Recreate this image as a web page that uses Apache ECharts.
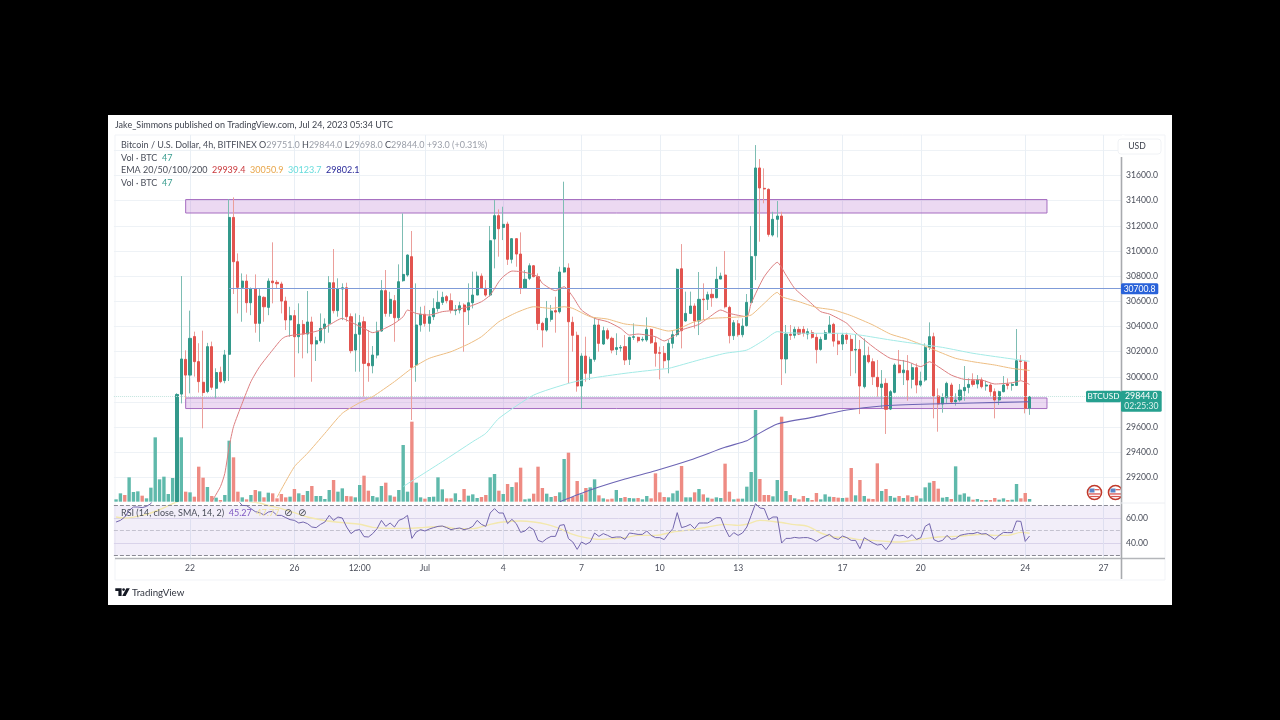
<!DOCTYPE html>
<html><head><meta charset="utf-8">
<style>html,body{margin:0;padding:0;background:#000;width:1280px;height:720px;overflow:hidden}
#frame{position:absolute;left:108px;top:115px;width:1064px;height:490px;background:#fff}
#c{position:absolute;left:0;top:0;width:1280px;height:720px}</style>
<script src="https://cdn.jsdelivr.net/npm/echarts@6/dist/echarts.min.js"></script>
</head><body><div id="frame"></div><div id="c"></div>
<script>
const firstBar=-17; // bar numbers count from 22 Jun 00:00
const opens=[26760,26800,26870,26830,27050,27100,27160,27110,27150,27400,
28150,28300,28400,28450,29010,29863,30139,30014,30320,30121,
29957,29883,30240,29909,30036,29970,30179,31267,30915,30711,
30761,30589,30698,30425,30632,30552,30761,30751,30738,30602,
30452,30486,30319,30417,30340,30436,30261,30287,30385,30425,
30748,30526,30698,30708,30478,30213,30338,30438,30107,30088,
30173,30364,30685,30504,30605,30470,30764,30809,30955,30094,
30412,30497,30425,30478,30544,30592,30637,30605,30526,30531,
30571,30531,30589,30650,30801,30703,30650,31095,31281,31188,
31214,30934,31098,30976,30703,30783,30883,30796,30425,30372,
30457,30526,30518,30833,30865,30433,30330,29927,30165,30028,
30139,30412,30261,30367,30306,30218,30229,30240,30139,30314,
30314,30293,30293,30377,30271,30192,30187,30134,30266,30335,
30859,30444,30504,30563,30444,30618,30616,30656,30629,30777,
30809,30552,30327,30422,30335,30407,30592,30963,31660,31498,
31490,31127,31252,31278,30142,30338,30330,30377,30377,30340,
30351,30314,30218,30298,30351,30417,30284,30261,30332,30298,
30213,30218,29922,30171,30120,29996,29916,29948,29744,29877,
30094,30033,30049,29980,30073,29935,29975,30234,30319,29848,
29784,29837,29935,29802,29816,29890,29916,29969,29943,29975,
29927,29935,29882,29816,29882,29943,29932,29932,30128,30118,
29751];
const closes=[26800,26870,26830,27050,27100,27160,27110,27150,27400,28150,
28300,28400,28450,28720,29860,30142,30014,30306,30121,29962,
29875,30240,29917,30034,29962,30174,31267,30915,30711,30761,
30589,30698,30425,30642,30557,30761,30748,30740,30602,30452,
30486,30319,30417,30340,30436,30261,30287,30385,30420,30748,
30526,30698,30708,30478,30208,30338,30430,30107,30088,30173,
30364,30685,30504,30616,30470,30756,30814,30968,30075,30412,
30497,30425,30478,30544,30592,30632,30605,30531,30531,30565,
30518,30589,30650,30801,30703,30650,31082,31281,31177,31212,
30934,31098,30976,30703,30775,30883,30796,30425,30372,30465,
30523,30515,30833,30867,30438,30330,29927,30165,30028,30139,
30412,30266,30367,30306,30213,30232,30234,30134,30314,30319,
30287,30298,30377,30271,30187,30187,30128,30266,30335,30854,
30367,30504,30563,30444,30616,30613,30653,30629,30775,30801,
30557,30327,30430,30335,30404,30592,30955,31660,31501,31493,
31132,31252,31278,30142,30340,30330,30377,30340,30345,30359,
30314,30216,30298,30351,30412,30284,30261,30332,30298,30208,
30218,29927,30168,30120,30001,29922,29943,29742,29882,30094,
30033,30054,29975,30073,29935,29967,30232,30319,29848,29784,
29837,29948,29800,29816,29895,29916,29940,29940,29975,29922,
29935,29882,29816,29882,29935,29932,29940,30128,30123,29750,
29844];
const lows=[26740,26780,26810,26810,27020,27080,27090,27090,27130,27380,
28120,28280,28370,28420,29005,29789,29824,29869,30002,29875,
29591,29870,29896,29830,29949,29949,29967,30658,30504,30438,
30510,30490,30351,30279,30438,30490,30584,30703,30504,30372,
30319,29996,30187,30147,30187,29961,30126,30271,30266,30351,
30504,30478,30451,30438,30187,30041,30041,29842,29961,30028,
30147,30359,30478,30478,30279,30451,30756,30795,29657,29961,
30359,30399,30359,30451,30518,30571,30584,30504,30490,30504,
30200,30412,30544,30650,30698,30637,30637,30862,30955,31087,
30889,30902,30875,30658,30698,30769,30791,30372,30234,30359,
30438,30351,30504,30828,29948,30200,29882,29750,29961,29975,
30120,30200,30253,30293,30187,30173,30200,30094,30094,30293,
30271,30279,30279,30261,30081,29980,30067,30028,30226,30319,
30226,30438,30499,30385,30332,30451,30531,30557,30624,30777,
30544,30266,30293,30319,30314,30399,30584,30769,31074,31379,
31114,31114,31108,29935,30028,30293,30306,30332,30319,30298,
30303,30107,30208,30293,30346,30240,30173,30213,30261,30006,
30028,29704,29908,30107,29935,29842,29750,29546,29736,29869,
30028,29935,29810,29908,29869,29922,29961,30213,29670,29564,
29715,29789,29789,29771,29802,29810,29869,29922,29908,29908,
29890,29842,29670,29776,29877,29900,29890,29927,29975,29710,
29698];
const highs=[26830,26890,26890,27070,27120,27180,27180,27170,27420,28170,
28320,28420,28470,28740,29870,30801,30211,30526,30359,30267,
30367,30270,30280,30068,30081,30214,31413,31426,30981,30822,
30814,30710,30814,30703,30640,30783,31069,30769,30756,30637,
30557,30531,30584,30451,30682,30478,30319,30504,30465,30801,
31016,30783,30743,30748,30504,30504,30491,30478,30372,30245,
30438,30769,30849,30676,30650,30894,31299,30973,31159,30743,
30557,30565,30531,30624,30685,30676,30650,30663,30571,30597,
30584,30743,30836,30836,30822,30769,31199,31405,31331,31352,
31233,31101,31101,31148,30849,30902,30889,30822,30438,30603,
30571,30637,30875,31551,30902,30478,30359,30187,30319,30160,
30470,30451,30399,30385,30319,30346,30253,30332,30319,30425,
30319,30319,30473,30385,30319,30240,30245,30293,30372,30862,
31055,30677,30677,30584,30833,30743,30677,30703,30875,30828,
31000,30565,30451,30451,30465,30658,31199,31842,31731,31657,
31498,31312,31397,31312,30412,30412,30399,30399,30404,30385,
30372,30346,30319,30372,30483,30430,30346,30346,30351,30332,
30338,30293,30306,30240,30147,30134,30054,29988,29895,30107,
30213,30134,30173,30107,30107,30041,30266,30433,30351,29908,
29869,29961,29953,29869,29943,30086,29988,30028,30014,29996,
29969,29948,29908,29890,30006,29988,29953,30380,30173,30134,
29844];
const volumes=[7,25,20,73,29,31,18,10,42,193,
67,75,23,71,165,193,30,28,15,105,
72,44,17,12,5,20,183,133,30,13,
7,20,35,31,13,27,25,10,23,13,
15,38,25,20,32,47,17,17,8,35,
65,30,40,17,16,13,50,78,33,17,
13,47,57,19,15,35,170,30,240,57,
13,9,14,15,73,37,10,10,25,5,
38,18,22,11,14,20,73,83,33,23,
53,44,58,102,7,9,24,105,41,24,
14,17,28,128,147,14,62,22,41,43,
67,19,10,7,9,35,11,14,11,10,
11,7,17,10,85,28,14,13,25,33,
107,13,13,28,38,22,12,9,13,11,
114,30,7,9,9,45,89,275,68,20,
20,16,65,255,32,20,10,7,17,11,
5,26,7,22,15,14,12,11,12,101,
19,65,17,9,8,115,32,38,17,12,
17,11,19,14,18,10,43,57,62,39,
12,14,8,106,21,25,15,6,8,5,
5,5,11,6,10,5,6,53,10,26,
8];
const rsi=[56.8,58.1,60.8,66.1,68.8,68.8,68.3,69.3,71.5,80,
78,77,82,86,88,88,84,85,80,76,
74,78,74,74,72.8,76,88,82,74,70.1,
69.9,67.5,65.1,64.3,62.4,64.8,65.3,62.1,62.1,60.3,
58.7,58.1,56,56.8,55.5,52.8,52.3,54.9,56.8,62.1,
58.1,60.8,60,52.8,47.5,50.1,50.7,45.1,44.8,47.5,
51.5,58.1,53.3,56,52.8,58.1,59.5,62.1,43.7,48.8,
50.7,49.6,51.2,52.3,53.3,53.6,52.3,50.7,51.5,52,
50.7,51.5,53.3,58.1,54.9,53.3,64,67.5,64,64,
55.5,58.9,55.5,48.5,49.6,52.8,50.7,42.1,40.8,43.5,
45.3,45.3,54.1,54.7,43.5,40.8,34.9,40.8,38.9,40.8,
48,45.3,47.5,46.1,44.3,44.8,44.8,42.9,48,47.5,
46.9,46.9,49.6,46.1,44.3,44.3,42.7,47.5,51.5,64.3,
52.3,53.3,54.9,51.5,56,56,56,58.1,60.3,60.3,
51.5,44.8,48.3,46.1,48,52.8,62.1,71.5,68,67.5,
58.7,60.8,60.8,40,43.7,43.7,44.5,44,44.3,44.3,
43.2,41.3,43.5,45.3,46.9,44,42.9,45.6,44.3,42.1,
42.1,35.5,44.3,42.1,40,38.4,38.9,34.7,39.5,46.7,
45.6,46.1,44,46.7,42.9,44.3,53.3,55.5,42.7,41.1,
42.1,46.1,42.9,43.5,46.1,46.9,47.5,47.5,48.5,47.2,
47.5,45.3,42.9,46.1,48.5,48.3,48.3,57.6,57.3,41.3,
45.6];
// moving averages read at selected bars: [bar number, value]
const ema20=[[5,29008],[7,29128],[8,29233],[9,29445],[10,29604],[12,29790],[14,29962],[16,30081],[19,30214],[21,30298],[22,30320],[24,30333],[27,30346],[30,30372],[32,30412],[35,30465],[36,30451],[40,30385],[42,30351],[44,30372],[47,30425],[49,30478],[50,30531],[52,30504],[55,30491],[58,30518],[60,30526],[64,30557],[67,30597],[69,30650],[71,30756],[72,30796],[74,30841],[76,30836],[78,30822],[80,30796],[81,30743],[84,30685],[86,30716],[88,30637],[90,30531],[93,30465],[96,30438],[99,30385],[101,30332],[103,30340],[107,30319],[109,30285],[111,30319],[113,30372],[117,30417],[119,30465],[122,30531],[124,30504],[128,30478],[129,30584],[132,30796],[135,30910],[137,30809],[139,30703],[142,30610],[145,30518],[147,30499],[151,30425],[153,30351],[156,30266],[158,30213],[161,30147],[165,30120],[168,30081],[170,30120],[172,30081],[175,30014],[178,29980],[182,29975],[185,29943],[189,29953],[191,29969],[193,29939.4]];
const ema50=[[20,29043],[24,29286],[27,29392],[31,29551],[35,29710],[39,29795],[42,29843],[47,29962],[51,30068],[55,30147],[60,30200],[64,30261],[67,30319],[71,30438],[75,30510],[79,30557],[83,30544],[86,30557],[88,30544],[92,30478],[96,30459],[100,30420],[106,30399],[110,30364],[112,30377],[116,30438],[120,30465],[123,30470],[127,30478],[129,30491],[132,30584],[135,30671],[136,30637],[140,30597],[144,30552],[148,30531],[152,30486],[157,30412],[161,30340],[165,30298],[169,30245],[173,30187],[176,30147],[180,30120],[185,30094],[189,30067],[193,30050.9]];
const ema100=[[49,29128],[58,29326],[65,29485],[68,29551],[71,29670],[79,29855],[87,29948],[92,29988],[100,30028],[108,30060],[110,30067],[117,30134],[123,30187],[128,30213],[132,30293],[135,30359],[137,30351],[142,30346],[150,30346],[154,30332],[161,30293],[169,30253],[173,30234],[180,30187],[188,30147],[193,30123.7]];
const ema200=[[85,29008],[92,29101],[100,29188],[107,29254],[115,29339],[123,29440],[128,29492],[130,29534],[135,29625],[143,29678],[151,29736],[159,29768],[170,29784],[180,29792],[193,29802.1]];
const rsiMa=[[-17,60.8],[-15,60],[-10,62.9],[-7,66.7],[-4,71.5],[-1,75],[5,78],[12,74],[16,72],[18,70],[21,67.5],[24,64.3],[27,60.8],[31,58],[35,56.3],[39,55],[42,52.5],[46,51.7],[50,51.7],[54,52.5],[58,53.3],[61,51.5],[65,51.5],[69,54.9],[72,56.8],[76,57.6],[79,56.8],[82,54.9],[85,51.5],[88,46.9],[91,44.3],[94,42.9],[97,43.5],[100,44.3],[103,46.1],[107,46.1],[111,48.8],[116,50.9],[119,52.8],[123,54.9],[126,54.1],[128,55],[131,58.1],[135,56.8],[139,54.7],[142,53.3],[145,48],[148,44.8],[151,44.3],[154,42.7],[157,42.1],[160,41.3],[163,40.8],[166,42.1],[169,43.5],[172,44.8],[176,45.3],[179,46.1],[182,46.9],[185,46.1],[188,46.1],[191,48.5],[193,47.77]];
const priceTicks=[29200,29400,29600,29800,30000,30200,30400,30600,30800,31000,31200,31400,31600];
const rsiTicks=[40,60];
const dateTicks=[[0,'22'],[24,'26'],[39,'12:00'],[54,'Jul'],[72,'4'],[90,'7'],[108,'10'],[126,'13'],[150,'17'],[168,'20'],[192,'24'],[210,'27']];
const upperBox=[31409,31302], lowerBox=[29832,29748];
const boxBars=[-1,197];
const lineLevel=30700.8, lastPrice=29844;
const slots=232;

const font='Lato,sans-serif';
const FS=9;
const AXFS=8.6;
const UP='#33998b',DOWN='#e2544f',UPW='#7dbdb3',DOWNW='#eb9e9a',VUP='#5fb9ab',VDOWN='#ee8b83',TXT='#4a4e5a';
const cats=[];for(let k=0;k<slots;k++){const d=new Date(Date.UTC(2023,5,22,(k+firstBar)*4));cats.push(d.toISOString().slice(0,16));}
const tickMap={};dateTicks.forEach(t=>tickMap[t[0]-firstBar]=t[1]);
const isTick=(i)=>tickMap[i]!==undefined;
const toK=a=>a.map(p=>[p[0]-firstBar,p[1]]);
const wicks=opens.map((o,i)=>[o,closes[i],lows[i],highs[i]]);
const bodies=opens.map((o,i)=>[o,closes[i],Math.min(o,closes[i]),Math.max(o,closes[i])]);
const volBars=volumes.map((v,i)=>({value:v,itemStyle:{color:closes[i]>=opens[i]?VUP:VDOWN}}));
const L=113.9,W=1009.2;
const rt=c=>({fontFamily:font,fontSize:FS,fontWeight:'normal',color:c});
function xA(grid,extra){return Object.assign({type:'category',gridIndex:grid,data:cats,axisLine:{show:false},axisTick:{show:false},axisLabel:{show:false},
 splitLine:{show:true,alignWithLabel:true,interval:(i)=>isTick(i),lineStyle:{color:'#e9eff5',width:1}}},extra||{});}
const flag=(cx,cy)=>[
 {type:'circle',shape:{cx,cy,r:7},style:{fill:'#fff',stroke:'#c0392b',lineWidth:1.6},z:50},
 {type:'rect',shape:{x:cx-5,y:cy-4,width:5,height:4},style:{fill:'#5b86c9'},z:51},
 {type:'rect',shape:{x:cx,y:cy-3.4,width:5,height:1.2},style:{fill:'#d9534f'},z:51},
 {type:'rect',shape:{x:cx-5.6,y:cy+0.8,width:11.2,height:1.3},style:{fill:'#d9534f'},z:51},
 {type:'rect',shape:{x:cx-4.4,y:cy+3.4,width:8.8,height:1.2},style:{fill:'#d9534f'},z:51}];
const tag=(x,y,w,h,c)=>({type:'rect',shape:{x,y,width:w,height:h,r:1.5},style:{fill:c},z:60});
const txt=(x,y,t,s,c,al)=>({type:'text',x,y,z:61,style:{text:t,font:s+'px '+font,fill:c,textAlign:al||'left',textVerticalAlign:'middle'}});

const chart=echarts.init(document.getElementById('c'),null,{width:1280,height:720});
chart.setOption({
 animation:false,backgroundColor:'transparent',
 title:[
  {text:'Jake_Simmons published on TradingView.com, Jul 24, 2023 05:34 UTC',left:115,top:121,padding:0,textStyle:rt('#3f434e')},
  {text:'{a|Bitcoin / U.S. Dollar, 4h, BITFINEX O}{b|29751.0}{a| H}{b|29844.0}{a| L}{b|29698.0}{a| C}{b|29844.0}{b| +93.0 (+0.31%)}',left:121,top:141,padding:0,textStyle:{...rt(TXT),rich:{a:rt(TXT),b:rt('#9a9ea8')}}},
  {text:'{a|Vol · BTC  }{g|47}',left:121,top:153.5,padding:0,textStyle:{...rt(TXT),rich:{a:rt(TXT),g:rt('#3a9d8f')}}},
  {text:'{a|EMA 20/50/100/200  }{r|29939.4}{a|  }{o|30050.9}{a|  }{c|30123.7}{a|  }{n|29802.1}',left:121,top:166,padding:0,textStyle:{...rt(TXT),rich:{a:rt(TXT),r:rt('#c9383c'),o:rt('#e8a64a'),c:rt('#66dcdc'),n:rt('#2a2a9a')}}},
  {text:'{a|Vol · BTC  }{g|47}',left:121,top:178.5,padding:0,textStyle:{...rt(TXT),rich:{a:rt(TXT),g:rt('#3a9d8f')}}},
  {text:'{a|RSI (14, close, SMA, 14, 2)  }{p|45.27}{a|  }{y|47.77}',left:121,top:508.5,padding:0,textStyle:{...rt(TXT),rich:{a:rt(TXT),p:rt('#7e57c2'),y:rt('#f0e29a')}}},
  {text:'⊘',left:284,top:508,padding:0,textStyle:{fontFamily:'"DejaVu Sans"',fontSize:10,fontWeight:'normal',color:TXT}},
  {text:'⊘',left:298,top:508,padding:0,textStyle:{fontFamily:'"DejaVu Sans"',fontSize:10,fontWeight:'normal',color:TXT}}
 ],
 grid:[
  {left:L,width:W,top:135,height:367.67},
  {left:L,width:W,top:401.67,height:100},
  {left:L,width:W,top:503,height:55}
 ],
 xAxis:[xA(0),xA(1,{splitLine:{show:false}}),xA(2,{axisLabel:{show:true,interval:(i)=>isTick(i),formatter:(v,i)=>tickMap[i]||'',fontFamily:font,fontSize:AXFS,color:TXT,margin:6,alignMinLabel:'center',alignMaxLabel:'center'},axisTick:{show:false}})],
 yAxis:[
  {type:'value',gridIndex:0,position:'right',min:29000,max:31922,interval:200,axisLine:{show:false},axisTick:{show:false},
   splitLine:{show:true,showMinLine:false,showMaxLine:false,lineStyle:{color:'#eef2f6',width:1}},
   axisLabel:{showMinLabel:false,showMaxLabel:false,formatter:v=>priceTicks.includes(v)?v.toFixed(1):'',fontFamily:font,fontSize:AXFS,color:TXT,margin:3}},
  {type:'value',gridIndex:1,min:0,max:300,show:false},
  {type:'value',gridIndex:2,position:'right',min:28,max:72,axisLine:{show:false},
   axisTick:{show:false,customValues:rsiTicks},
   splitLine:{show:true,lineStyle:{color:'#e4e1ef',width:1}},
   axisLabel:{customValues:rsiTicks,formatter:v=>Number(v).toFixed(2),fontFamily:font,fontSize:AXFS,color:TXT,margin:3}}
 ],
 series:[
  {type:'bar',name:'Vol',xAxisIndex:1,yAxisIndex:1,data:volBars,barWidth:3.4,z:1},
  {type:'candlestick',name:'wick',xAxisIndex:0,yAxisIndex:0,data:wicks,barWidth:1,z:2,clip:true,
   itemStyle:{color:UPW,color0:DOWNW,borderColor:UPW,borderColor0:DOWNW,borderWidth:1}},
  {type:'candlestick',name:'BTCUSD',xAxisIndex:0,yAxisIndex:0,data:bodies,barWidth:2.6,z:3,clip:true,
   itemStyle:{color:UP,color0:DOWN,borderColor:UP,borderColor0:DOWN,borderWidth:1},
   markArea:{silent:true,itemStyle:{color:'rgba(186,120,210,0.28)',borderColor:'#a56cc0',borderWidth:1},
    data:[[{coord:[boxBars[0]-firstBar,upperBox[0]]},{coord:[boxBars[1]-firstBar,upperBox[1]]}],
          [{coord:[boxBars[0]-firstBar,lowerBox[0]]},{coord:[boxBars[1]-firstBar,lowerBox[1]]}]]},
   markLine:{silent:true,symbol:'none',label:{show:false},
    data:[[{coord:[9-firstBar,lineLevel],lineStyle:{color:'#7f9bd8',width:1.2,type:'solid'}},{coord:[slots-1,lineLevel]}],
          {yAxis:lastPrice,lineStyle:{color:'#c2e4de',width:1,type:'dotted'}}]}},
  {type:'line',name:'EMA20',xAxisIndex:0,yAxisIndex:0,data:toK(ema20),showSymbol:false,smooth:0.2,z:5,lineStyle:{color:'#dc7f80',width:1}},
  {type:'line',name:'EMA50',xAxisIndex:0,yAxisIndex:0,data:toK(ema50),showSymbol:false,smooth:0.2,z:5,lineStyle:{color:'#edbd82',width:1}},
  {type:'line',name:'EMA100',xAxisIndex:0,yAxisIndex:0,data:toK(ema100),showSymbol:false,smooth:0.2,z:5,lineStyle:{color:'#a3eae6',width:1}},
  {type:'line',name:'EMA200',xAxisIndex:0,yAxisIndex:0,data:toK(ema200),showSymbol:false,smooth:0.2,z:5,lineStyle:{color:'#6c64b4',width:1.1}},
  {type:'line',name:'RSI MA',xAxisIndex:2,yAxisIndex:2,data:toK(rsiMa),showSymbol:false,smooth:0.3,z:4,lineStyle:{color:'#f3e8ae',width:1.4}},
  {type:'line',name:'RSI',xAxisIndex:2,yAxisIndex:2,data:rsi,showSymbol:false,z:5,lineStyle:{color:'#7366ad',width:1},
   markArea:{silent:true,itemStyle:{color:'rgba(126,87,194,0.10)'},data:[[{yAxis:70},{yAxis:30}]]},
   markLine:{silent:true,symbol:'none',label:{show:false},data:[
    {yAxis:70,lineStyle:{color:'#8a8a94',type:'dashed',width:1}},
    {yAxis:50,lineStyle:{color:'#c4c2cf',type:'dashed',width:1}},
    {yAxis:30,lineStyle:{color:'#8a8a94',type:'dashed',width:1}}]}}
 ],
 graphic:{elements:[
  {type:'rect',shape:{x:115,y:135,width:1050,height:445},style:{fill:'none',stroke:'#f1f3f7',lineWidth:1},z:-1},
  ...flag(1094.5,492.5),...flag(1115.5,492.5),
  {type:'rect',shape:{x:1122,y:135,width:2.5,height:444},style:{fill:'#fff'},z:55},
  {type:'line',shape:{x1:115,y1:558.5,x2:1165,y2:558.5},style:{stroke:'#b4b6ba',lineWidth:1.4},z:56},
  {type:'line',shape:{x1:1121.5,y1:157,x2:1121.5,y2:579},style:{stroke:'#a8aaae',lineWidth:1.6},z:56},
  {type:'line',shape:{x1:1121,y1:503,x2:1165,y2:503},style:{stroke:'#eceef2',lineWidth:1},z:56},
  {type:'rect',shape:{x:1118,y:139,width:43,height:15,r:3},style:{fill:'#fff',stroke:'#f0f2f5',lineWidth:1},z:57},
  txt(1137,146.5,'USD',8.6,'#3f434e','center'),
  tag(1121,283.3,37.3,11,'#2962d9'),txt(1139.6,289,'30700.8',8.6,'#fff','center'),
  tag(1086,390.7,35,11.6,'#26a08f'),txt(1103.5,396.6,'BTCUSD',8.2,'#fff','center'),
  tag(1121,390.7,40.7,21,'#26a08f'),txt(1141.3,396.6,'29844.0',8.8,'#fff','center'),txt(1141.3,406,'02:25:30',8.6,'#dff3ef','center'),
  {type:'polygon',shape:{points:[[115.3,588.3],[121.6,588.3],[121.6,596],[118.4,596],[118.4,590.9],[115.3,590.9]]},style:{fill:'#131722'},z:60},
  {type:'circle',shape:{cx:123.6,cy:589.6,r:1.3},style:{fill:'#131722'},z:60},
  {type:'polygon',shape:{points:[[126.4,588.3],[129.8,588.3],[125.6,596],[122.2,596]]},style:{fill:'#131722'},z:60},
  txt(132,592.5,'TradingView',9.7,'#30343f')
 ]}
});
</script></body></html>
